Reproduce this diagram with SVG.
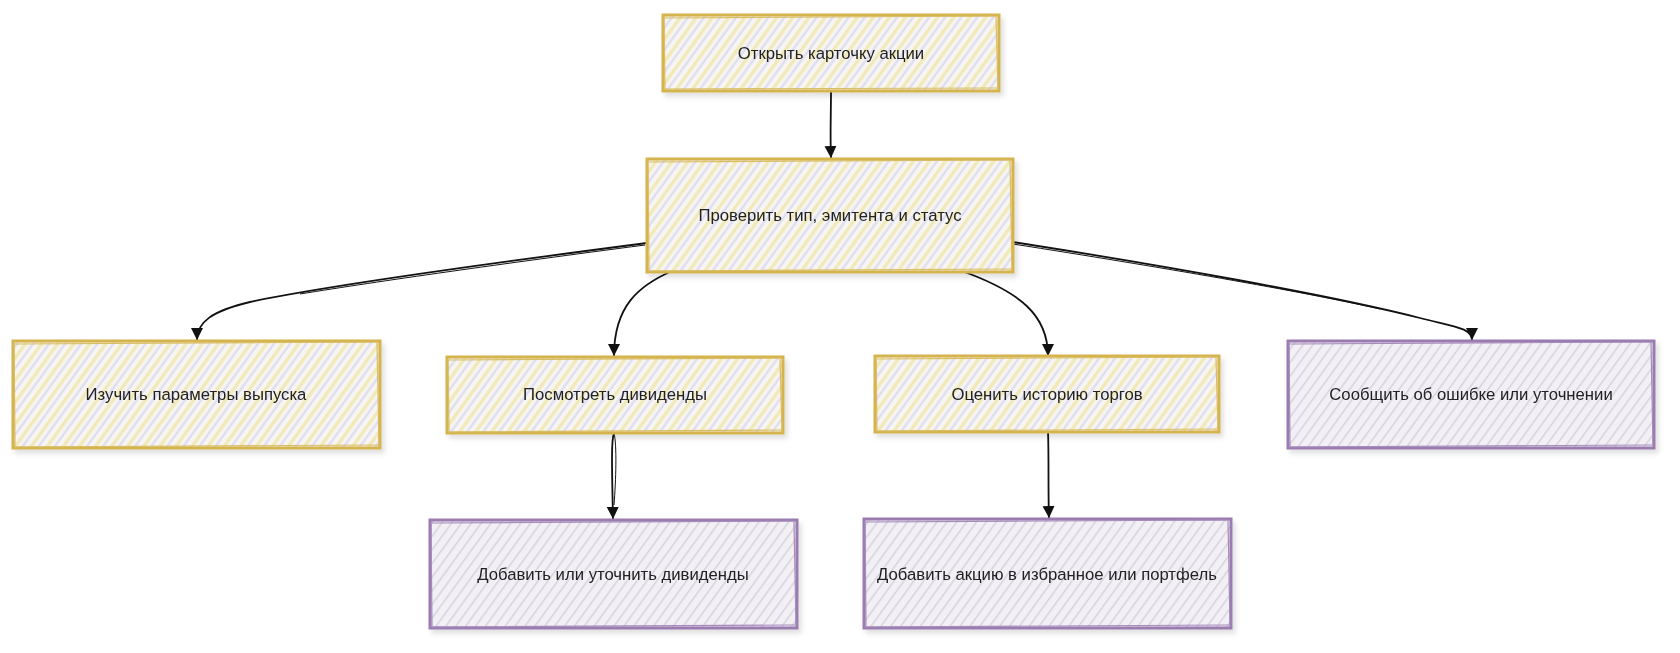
<svg xmlns="http://www.w3.org/2000/svg" width="1680" height="653" viewBox="0 0 1680 653">
<style>
.lbl{font-family:"Liberation Sans",Arial,sans-serif;font-size:16.7px;fill:#222;text-anchor:middle;dominant-baseline:central}
.y{fill:url(#hy);stroke:#d5b34e;stroke-width:3}
.p{fill:url(#hp);stroke:#9a7bb0;stroke-width:3}
.y2{fill:none;stroke:#d9bd62;stroke-width:1.2}
.p2{fill:none;stroke:#a68bbb;stroke-width:1.2}
.edge{fill:none;stroke:#111;stroke-width:1.8;marker-end:url(#arr)}
.edge2{fill:none;stroke:#111;stroke-width:1}
</style>
<defs>
<pattern id="hy" patternUnits="userSpaceOnUse" width="13" height="13" patternTransform="rotate(36)">
<rect width="13" height="13" fill="#f6f5f3"/>
<rect x="0" y="0" width="3.4" height="13" fill="#f1e9b8"/>
<rect x="6.5" y="0" width="2.4" height="13" fill="#e0dded"/>
</pattern>
<pattern id="hp" patternUnits="userSpaceOnUse" width="8" height="8" patternTransform="rotate(36)">
<rect width="8" height="8" fill="#f2f0f5"/>
<rect x="0" y="0" width="1.5" height="8" fill="#d6d2de"/>
</pattern>
<filter id="sh" x="-5%" y="-10%" width="112%" height="130%">
<feDropShadow dx="3" dy="4" stdDeviation="2.5" flood-color="#000" flood-opacity="0.12"/>
</filter>
<marker id="arr" markerUnits="userSpaceOnUse" markerWidth="14" markerHeight="14" refX="12" refY="6" orient="auto">
<path d="M0,0 L12,6 L0,12 Z" fill="#111"/>
</marker>
</defs>

<g id="connectors">
<path class="edge" d="M831,91 C831,115 830,135 831,158"/>
<path class="edge" d="M647,243 C500,262 330,285 250,302 C212,311 197,322 197,340"/>
<path class="edge2" d="M645,245 C500,264 380,281 300,294"/>
<path class="edge" d="M672,271 C640,285 614,305 614,356"/>
<path class="edge" d="M962,271 C1020,292 1048,315 1048,356"/>
<path class="edge" d="M1013,242 C1160,265 1330,295 1420,318 C1455,327 1472,328 1472,340"/>
<path class="edge2" d="M1013,244 C1160,267 1300,291 1380,309"/>
<path class="edge" d="M614,433 C611,440 612,470 613,519"/>
<path class="edge2" d="M614,433 C617,445 616,480 614,505"/>
<path class="edge" d="M1048,431 C1049,460 1048,490 1049,518"/>
</g>

<g id="n1" filter="url(#sh)">
<rect class="y" x="663" y="15" width="336" height="76"/>
<path class="y2" d="M665,18 L997,16 M996,17 L998,89 M997,88 L664,89 M665,90 L664,17"/>
<text class="lbl" x="831" y="53">Открыть карточку акции</text>
</g>

<g id="n2" filter="url(#sh)">
<rect class="y" x="647" y="159" width="366" height="113"/>
<path class="y2" d="M649,162 L1011,160 M1010,161 L1012,270 M1011,269 L648,271 M649,270 L648,161"/>
<text class="lbl" x="830" y="215">Проверить тип, эмитента и статус</text>
</g>

<g id="n3" filter="url(#sh)">
<rect class="y" x="13" y="341" width="367" height="107"/>
<path class="y2" d="M15,344 L378,342 M377,343 L379,446 M378,445 L14,447 M15,446 L14,343"/>
<text class="lbl" x="196" y="394">Изучить параметры выпуска</text>
</g>

<g id="n4" filter="url(#sh)">
<rect class="y" x="447" y="357" width="336" height="76"/>
<path class="y2" d="M449,360 L781,358 M780,359 L782,431 M781,430 L448,432 M449,431 L448,359"/>
<text class="lbl" x="615" y="394">Посмотреть дивиденды</text>
</g>

<g id="n5" filter="url(#sh)">
<rect class="y" x="875" y="356" width="344" height="76"/>
<path class="y2" d="M877,359 L1217,357 M1216,358 L1218,430 M1217,429 L876,431 M877,430 L876,358"/>
<text class="lbl" x="1047" y="394">Оценить историю торгов</text>
</g>

<g id="n6" filter="url(#sh)">
<rect class="p" x="1288" y="341" width="366" height="107"/>
<path class="p2" d="M1290,344 L1652,342 M1651,343 L1653,446 M1652,445 L1289,447 M1290,446 L1289,343"/>
<text class="lbl" x="1471" y="394">Сообщить об ошибке или уточнении</text>
</g>

<g id="n7" filter="url(#sh)">
<rect class="p" x="430" y="520" width="367" height="108"/>
<path class="p2" d="M432,523 L795,521 M794,522 L796,626 M795,625 L431,627 M432,626 L431,522"/>
<text class="lbl" x="613" y="574">Добавить или уточнить дивиденды</text>
</g>

<g id="n8" filter="url(#sh)">
<rect class="p" x="864" y="519" width="367" height="109"/>
<path class="p2" d="M866,522 L1229,520 M1228,521 L1230,626 M1229,625 L865,627 M866,626 L865,521"/>
<text class="lbl" x="1047" y="574">Добавить акцию в избранное или портфель</text>
</g>
</svg>
